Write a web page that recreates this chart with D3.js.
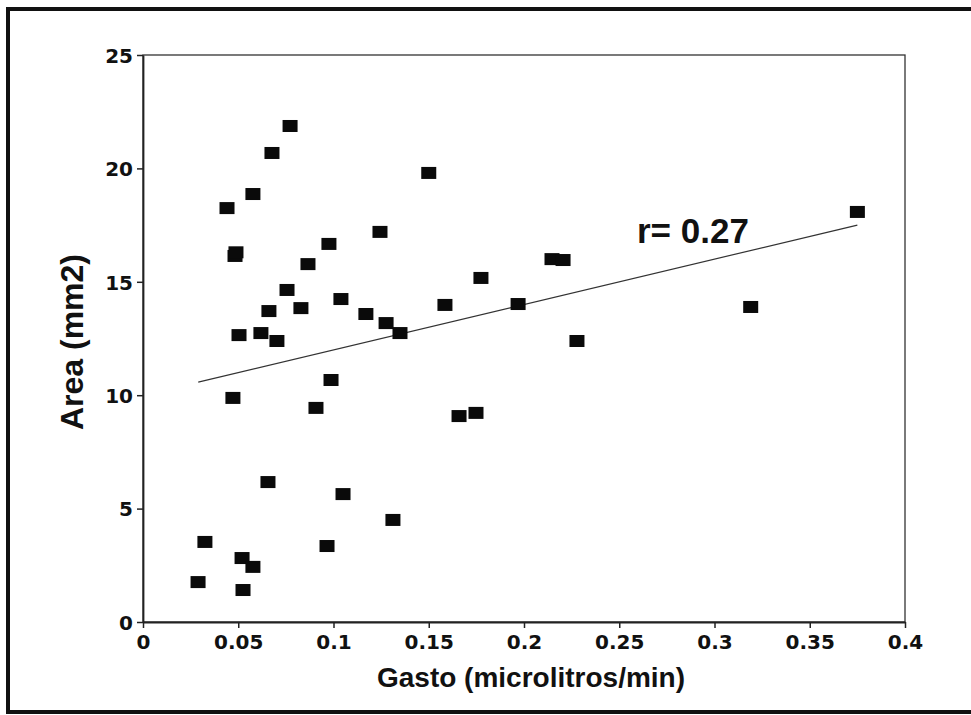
<!DOCTYPE html>
<html><head><meta charset="utf-8">
<script src="https://cdn.jsdelivr.net/npm/d3@7"></script>
<style>html,body{margin:0;padding:0;background:#fff;}svg{display:block;}</style>
</head><body>
<svg id="c" width="971" height="715"></svg>
<script>
const gasto = [0.0289,0.0325,0.0520,0.0577,0.0525,0.0656,0.0472,0.0504,0.0483,0.0488,0.0441,0.0577,0.0677,0.0772,0.0619,0.0661,0.0703,0.0756,0.0829,0.0866,0.0976,0.1039,0.0908,0.0987,0.1050,0.0966,0.1170,0.1244,0.1276,0.1349,0.1312,0.1500,0.1585,0.1659,0.1748,0.1774,0.1969,0.2147,0.2205,0.2278,0.3190,0.3750];
const area  = [1.76,3.53,2.82,2.43,1.41,6.17,9.88,12.65,16.14,16.30,18.25,18.87,20.68,21.87,12.74,13.71,12.39,14.64,13.84,15.78,16.67,14.24,9.44,10.67,5.64,3.35,13.58,17.20,13.18,12.74,4.50,19.80,13.98,9.08,9.22,15.17,14.02,16.00,15.96,12.39,13.89,18.08];
const fitX = [0.029, 0.375];
const fitY = [10.58, 17.50];
const xTicks = [0,0.05,0.1,0.15,0.2,0.25,0.3,0.35,0.4];
const xTickLabels = ["0","0.05","0.1","0.15","0.2","0.25","0.3","0.35","0.4"];
const yTicks = [0,5,10,15,20,25];
const yTickLabels = ["0","5","10","15","20","25"];
const xTitle = "Gasto (microlitros/min)";
const yTitle = "Area (mm2)";
const rLabel = "r= 0.27";

const svg = d3.select("#c");
const font = "'Liberation Sans', Arial, Helvetica, sans-serif";
const tickFont = "'DejaVu Sans', sans-serif";
// outer frame
svg.append("rect").attr("x",8).attr("y",9).attr("width",975).attr("height",703)
  .attr("fill","#fff").attr("stroke","#111").attr("stroke-width",4);

const x = d3.scaleLinear().domain([0,0.4]).range([143,905]);
const y = d3.scaleLinear().domain([0,25]).range([622,55]);

// plot box
svg.append("rect").attr("x",x(0)).attr("y",y(25)).attr("width",x(0.4)-x(0)).attr("height",y(0)-y(25))
  .attr("fill","none").attr("stroke","#333").attr("stroke-width",1.3);

const xAxis = d3.axisBottom(x).tickValues(xTicks).tickFormat((d,i)=>xTickLabels[i]).tickSize(6).tickSizeOuter(0);
const gx = svg.append("g").attr("transform",`translate(0,${y(0)})`).call(xAxis);
const yAxis = d3.axisLeft(y).tickValues(yTicks).tickFormat((d,i)=>yTickLabels[i]).tickSize(6).tickSizeOuter(0);
const gy = svg.append("g").attr("transform",`translate(${x(0)},0)`).call(yAxis);
[gx,gy].forEach(g=>{
  g.select(".domain").attr("stroke","#222").attr("stroke-width",1.8);
  g.selectAll(".tick line").attr("stroke","#222").attr("stroke-width",1.5);
  g.selectAll(".tick text").attr("fill","#111").style("font-family",tickFont).style("font-weight","bold").style("font-size","20px");
});
gx.selectAll(".tick text").attr("dy","0.71em").attr("y",13);
gy.selectAll(".tick text").attr("x",-10).attr("dy","0.36em");

// regression line
svg.append("line").attr("x1",x(fitX[0])).attr("y1",y(fitY[0])).attr("x2",x(fitX[1])).attr("y2",y(fitY[1]))
  .attr("stroke","#333").attr("stroke-width",1.2);

// points
const mw = 15, mh = 12;
svg.append("g").selectAll("rect").data(gasto.map((g,i)=>[g,area[i]])).join("rect")
  .attr("x",d=>x(d[0])-mw/2).attr("y",d=>y(d[1])-mh/2).attr("width",mw).attr("height",mh).attr("fill","#0a0a0a");

// labels
svg.append("text").attr("x",637).attr("y",243).text(rLabel)
  .style("font-family",font).style("font-weight","bold").style("font-size","35px").attr("fill","#111");
svg.append("text").attr("x",531).attr("y",687).attr("text-anchor","middle").text(xTitle)
  .style("font-family",font).style("font-weight","bold").style("font-size","28px").attr("fill","#111");
svg.append("text").attr("transform","translate(83,342) rotate(-90)").attr("text-anchor","middle").text(yTitle)
  .style("font-family",font).style("font-weight","bold").style("font-size","32px").attr("fill","#111");
</script>
</body></html>
